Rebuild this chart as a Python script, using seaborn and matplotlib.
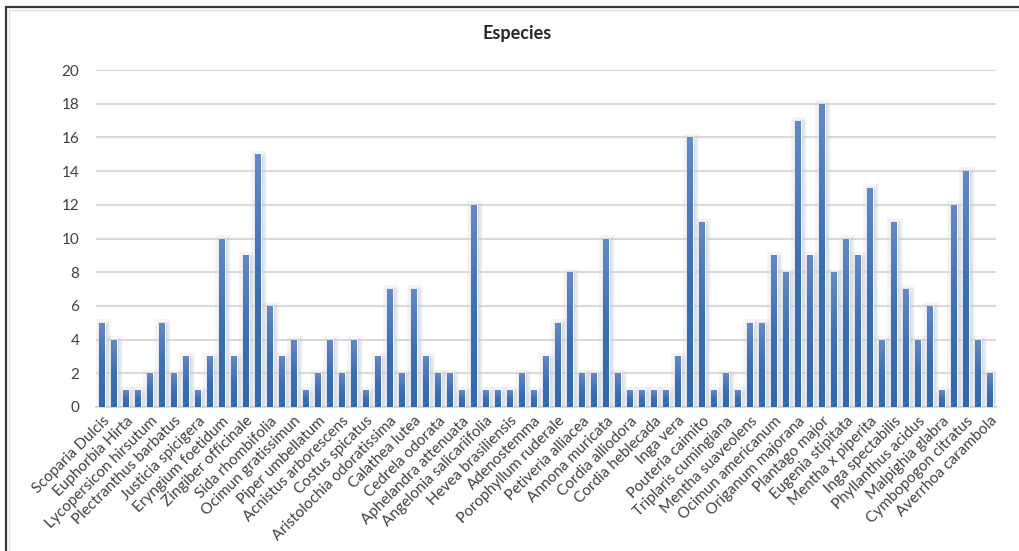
import numpy as np
import pandas as pd
import matplotlib
matplotlib.use("Agg")
import matplotlib.pyplot as plt
import matplotlib.patheffects as pe
from matplotlib.patches import Rectangle
import seaborn as sns

# Number of records per species (75 bars, every other one labelled)
counts = [5, 4, 1, 1, 2, 5, 2, 3, 1, 3, 10, 3, 9, 15, 6, 3, 4, 1, 2, 4,
          2, 4, 1, 3, 7, 2, 7, 3, 2, 2, 1, 12, 1, 1, 1, 2, 1, 3, 5, 8,
          2, 2, 10, 2, 1, 1, 1, 1, 3, 16, 11, 1, 2, 1, 5, 5, 9, 8, 17, 9,
          18, 8, 10, 9, 13, 4, 11, 7, 4, 6, 1, 12, 14, 4, 2]

species_labels = [
    "Scoparia Dulcis", "Euphorbia Hirta", "Lycopersicon hirsutum",
    "Plectranthus barbatus", "Justicia spicigera", "Eryngium foetidum",
    "Zingiber officinale", "Sida rhombifolia", "Ocimun gratissimun",
    "Piper umbellatum", "Acnistus arborescens", "Costus spicatus",
    "Aristolochia odoratissima", "Calathea lutea", "Cedrela odorata",
    "Aphelandra attenuata", "Angelonia salicariifolia", "Hevea brasiliensis",
    "Adenostemma", "Porophyllum ruderale", "Petiveria alliacea",
    "Annona muricata", "Cordia alliodora", "Cordia heblecada", "Inga vera",
    "Pouteria caimito", "Triplaris cumingiana", "Mentha suaveolens",
    "Ocimun americanum", "Origanum majorana", "Plantago major",
    "Eugenia stipitata", "Mentha x piperita", "Inga spectabilis",
    "Phyllanthus acidus", "Malpighia glabra", "Cymbopogon citratus",
    "Averrhoa carambola",
]

y_ticks = [0, 2, 4, 6, 8, 10, 12, 14, 16, 18, 20]

sns.set_theme(style="white")
plt.rcParams["font.family"] = ["Lato", "DejaVu Sans"]

df = pd.DataFrame({"pos": np.arange(len(counts)), "n": counts})

W, H = 1019, 551
fig = plt.figure(figsize=(W / 100, H / 100), dpi=100)
ax = fig.add_axes([96 / W, 1 - 407 / H, 900 / W, 337 / H])

sns.barplot(data=df, x="pos", y="n", color="#3f73bf", width=0.5,
            saturation=1, ax=ax, zorder=3)

# vertical gradient inside each bar plus a soft grey glow around it
grad = np.linspace(0, 1, 64).reshape(-1, 1)
cmap = matplotlib.colors.LinearSegmentedColormap.from_list(
    "barfill", ["#2c69b4", "#3a70bc", "#6189c9"])
for p in ax.patches:
    x0, y0 = p.get_x(), p.get_y()
    w, h = p.get_width(), p.get_height()
    p.set_path_effects([
        pe.Stroke(linewidth=7, foreground="#d4d4d4", alpha=0.25, offset=(1, -1)),
        pe.Stroke(linewidth=3.5, foreground="#bdbdbd", alpha=0.3, offset=(1, -1)),
        pe.Normal()])
    im = ax.imshow(grad, extent=(x0, x0 + w, y0, y0 + h), origin="lower",
                   cmap=cmap, aspect="auto", zorder=4, interpolation="bilinear")
    im.set_clip_path(p)

ax.set_xlim(-0.5, len(counts) - 0.5)
ax.set_ylim(0, 20)
ax.set_yticks(y_ticks)
ax.set_yticklabels([str(v) for v in y_ticks], fontsize=11, color="#404040")
ax.yaxis.grid(True, color="#d9d9d9", linewidth=1.5, zorder=0)
ax.set_axisbelow(True)

ax.set_xticks(np.arange(0, len(counts), 2))
ax.set_xticklabels(species_labels, rotation=45, ha="right",
                   rotation_mode="anchor", fontsize=11, color="#404040")
ax.tick_params(axis="both", length=0)
ax.tick_params(axis="x", pad=5)
ax.tick_params(axis="y", pad=12)
ax.set_xlabel("")
ax.set_ylabel("")
for s in ["top", "right", "left"]:
    ax.spines[s].set_visible(False)
ax.spines["bottom"].set_color("#d9d9d9")
ax.spines["bottom"].set_linewidth(1.5)

fig.text(517 / W, 1 - 33 / H, "Especies", ha="center", va="center",
         fontsize=13, fontweight="bold", color="#262626")

# chart frame
fig.patches.append(Rectangle((6 / W, -0.1), 1.2, 1 - 7 / H + 0.1,
                             transform=fig.transFigure, fill=False,
                             edgecolor="#3a3a3a", linewidth=1.6))
fig.patches.append(Rectangle((9 / W, -0.1), 1.2, 1 - 10 / H + 0.1,
                             transform=fig.transFigure, fill=False,
                             edgecolor="#e0e0e0", linewidth=1.0))

fig.savefig("out.png", dpi=100)
